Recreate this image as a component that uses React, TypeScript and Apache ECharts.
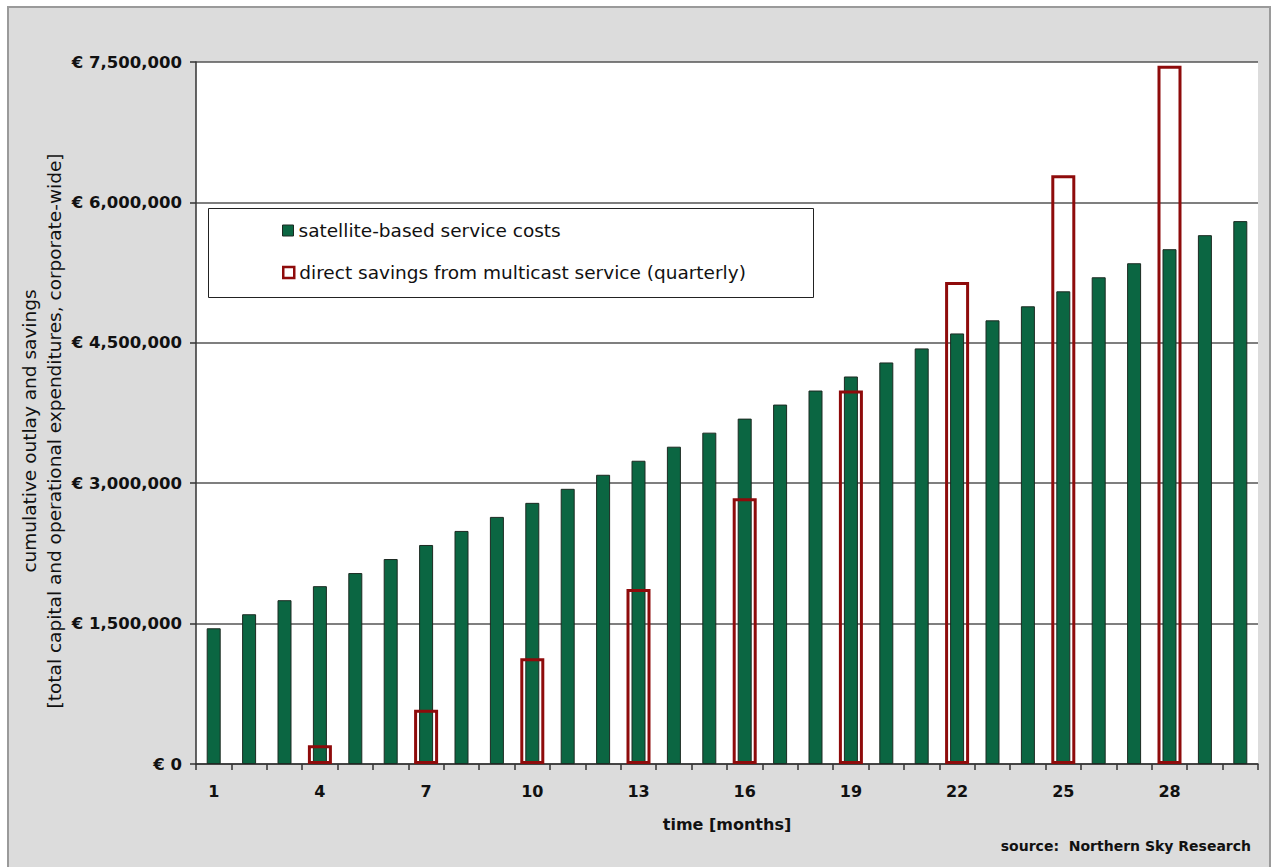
import React, { useEffect, useRef } from "react";
import * as echarts from "echarts";

// Months 1..30
const months: string[] = [
  "1", "2", "3", "4", "5", "6", "7", "8", "9", "10",
  "11", "12", "13", "14", "15", "16", "17", "18", "19", "20",
  "21", "22", "23", "24", "25", "26", "27", "28", "29", "30",
];

// Cumulative satellite-based service costs (EUR)
const satelliteCosts: number[] = [
  1450000, 1600000, 1750000, 1900000, 2040000, 2190000, 2340000, 2490000, 2640000, 2790000,
  2940000, 3090000, 3240000, 3390000, 3540000, 3690000, 3840000, 3990000, 4140000, 4290000,
  4440000, 4600000, 4740000, 4890000, 5050000, 5200000, 5350000, 5500000, 5650000, 5800000,
];

// Quarterly direct savings from multicast service (EUR); null where no quarter closes
const multicastSavings: (number | null)[] = [
  null, null, null, 200000, null, null, 580000, null, null, 1130000,
  null, null, 1870000, null, null, 2840000, null, null, 3990000, null,
  null, 5150000, null, null, 6290000, null, null, 7460000, null, null,
];

const yTicks = { min: 0, max: 7500000, interval: 1500000 };

const SERIES_COSTS = "satellite-based service costs";
const SERIES_SAVINGS = "direct savings from multicast service (quarterly)";

const FONT = "'DejaVu Sans', Verdana, sans-serif";
const GREEN = "#0b6642";
const RED = "#8e0b0b";

export default function App() {
  const ref = useRef<HTMLDivElement>(null);

  useEffect(() => {
    if (!ref.current) return;
    const chart = echarts.init(ref.current, undefined, { renderer: "svg" });

    const fmt = (v: number) => "€ " + v.toLocaleString("en-US");

    chart.setOption({
      animation: false,
      backgroundColor: "#ffffff",
      textStyle: { fontFamily: FONT },
      grid: { left: 196, right: 15, top: 62, bottom: 103, containLabel: false },
      graphic: [
        {
          type: "rect",
          z: -10,
          silent: true,
          shape: { x: 8, y: 7, width: 1262, height: 880 },
          style: { fill: "#dcdcdc", stroke: "#9a9a9a", lineWidth: 2 },
        },
        {
          type: "rect",
          z: -5,
          silent: true,
          shape: { x: 196, y: 62, width: 1062, height: 702 },
          style: { fill: "#ffffff" },
        },
        {
          type: "rect",
          z: 10,
          silent: true,
          shape: { x: 208.5, y: 208.5, width: 605, height: 89 },
          style: { fill: "#ffffff", stroke: "#222222", lineWidth: 1 },
        },
        {
          type: "text",
          z: 10,
          x: 42,
          y: 431,
          rotation: Math.PI / 2,
          style: {
            text: "cumulative outlay and savings\n[total capital and operational expenditures, corporate-wide]",
            fill: "#111111",
            font: `18.5px ${FONT}`,
            align: "center",
            verticalAlign: "middle",
            lineHeight: 25,
          },
        },
        {
          type: "text",
          z: 10,
          x: 1251,
          y: 846,
          style: {
            text: "source:  Northern Sky Research",
            fill: "#111111",
            font: `bold 14px ${FONT}`,
            align: "right",
            verticalAlign: "middle",
          },
        },
      ],
      legend: [
        {
          z: 20,
          left: 277,
          top: 216,
          itemWidth: 11,
          itemHeight: 11,
          selectedMode: false,
          textStyle: { fontSize: 18.5, color: "#111111", fontFamily: FONT, padding: [0, 0, 0, 0] },
          data: [
            {
              name: SERIES_COSTS,
              icon: "rect",
              itemStyle: { color: GREEN, borderColor: "#1c2a22", borderWidth: 1 },
            },
          ],
        },
        {
          z: 20,
          left: 277,
          top: 258,
          itemWidth: 11,
          itemHeight: 11,
          selectedMode: false,
          textStyle: { fontSize: 18.5, color: "#111111", fontFamily: FONT, padding: [0, 0, 0, 0] },
          data: [
            {
              name: SERIES_SAVINGS,
              icon: "rect",
              itemStyle: { color: "#ffffff", borderColor: RED, borderWidth: 2.5 },
            },
          ],
        },
      ],
      xAxis: [
        {
          type: "category",
          data: months,
          boundaryGap: true,
          name: "time [months]",
          nameLocation: "middle",
          nameGap: 52,
          nameTextStyle: { fontSize: 16, fontWeight: "bold", color: "#111111", fontFamily: FONT },
          axisLine: { show: true, lineStyle: { color: "#333333", width: 1.5 } },
          axisTick: { show: true, interval: 0, length: 6, lineStyle: { color: "#333333", width: 1.5 } },
          axisLabel: {
            interval: 2,
            margin: 19,
            fontSize: 16,
            fontWeight: "bold",
            color: "#111111",
            fontFamily: FONT,
          },
          splitLine: { show: false },
        },
        {
          type: "category",
          data: months,
          boundaryGap: true,
          show: false,
        },
      ],
      yAxis: {
        type: "value",
        min: yTicks.min,
        max: yTicks.max,
        interval: yTicks.interval,
        axisLine: { show: true, lineStyle: { color: "#333333", width: 1.5 } },
        axisTick: { show: true, inside: false, length: 6, lineStyle: { color: "#333333", width: 1.5 } },
        axisLabel: {
          margin: 14,
          fontSize: 16.5,
          fontWeight: "bold",
          color: "#111111",
          fontFamily: FONT,
          formatter: (v: number) => fmt(v),
        },
        splitLine: { show: true, lineStyle: { color: "#555555", width: 1.5 } },
      },
      series: [
        {
          name: SERIES_COSTS,
          type: "bar",
          xAxisIndex: 0,
          data: satelliteCosts,
          barWidth: 14,
          z: 2,
          itemStyle: { color: GREEN, borderColor: "#1c2a22", borderWidth: 1 },
        },
        {
          name: SERIES_SAVINGS,
          type: "bar",
          xAxisIndex: 1,
          data: multicastSavings,
          barWidth: 24,
          z: 3,
          itemStyle: { color: "rgba(0,0,0,0)", borderColor: RED, borderWidth: 3 },
        },
      ],
    });

    return () => chart.dispose();
  }, []);

  return (
    <div
      ref={ref}
      style={{ position: "fixed", left: 0, top: 0, width: 1273, height: 867 }}
    />
  );
}
